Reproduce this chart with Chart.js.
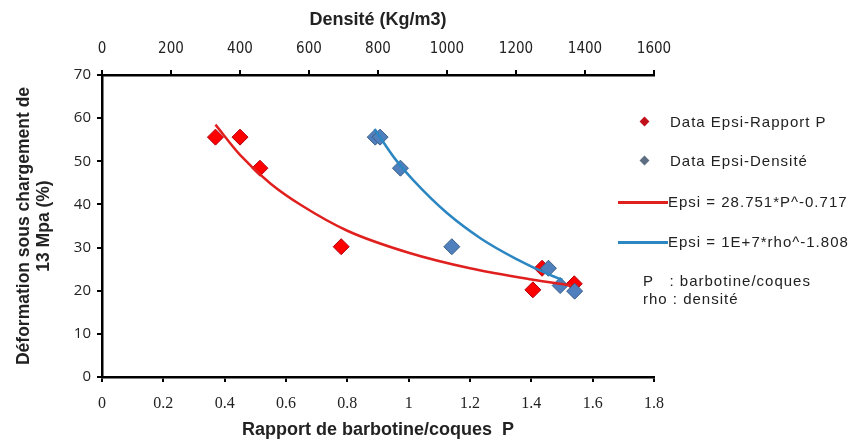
<!DOCTYPE html>
<html>
<head>
<meta charset="utf-8">
<script src="https://cdn.jsdelivr.net/npm/chart.js@4"></script>
<style>
  body { margin: 0; background: #fff; }
  #wrap { position: relative; width: 862px; height: 445px; }
  #legend { position: absolute; left: 600px; top: 100px; width: 262px; font-family: "Liberation Sans", Arial, sans-serif; font-size: 15px; letter-spacing: 1px; color: #222; }
  .item { position: absolute; left: 0; height: 20px; line-height: 20px; white-space: nowrap; }
  .dia { position: absolute; width: 7px; height: 7px; transform: rotate(45deg); }
  .ln { position: absolute; height: 3px; width: 50px; }
  .txt { position: absolute; }
</style>
</head>
<body>
<div id="wrap">
  <canvas id="epsiChart" width="862" height="445"></canvas>
  <div id="legend">
    <div class="item" style="top:12px"><span class="dia" style="left:41px;top:6px;background:#c0101a"></span><span class="txt" style="left:70px">Data Epsi-Rapport P</span></div>
    <div class="item" style="top:51px"><span class="dia" style="left:41px;top:6px;background:#5d6d82"></span><span class="txt" style="left:70px">Data Epsi-Densité</span></div>
    <div class="item" style="top:92px"><span class="ln" style="left:18px;top:9px;background:#e0201e"></span><span class="txt" style="left:68px">Epsi = 28.751*P^-0.717</span></div>
    <div class="item" style="top:132px"><span class="ln" style="left:18px;top:9px;background:#2b86c2"></span><span class="txt" style="left:68px">Epsi = 1E+7*rho^-1.808</span></div>
    <div class="item" style="top:172px;line-height:18px"><span class="txt" style="left:43px">P&nbsp;&nbsp;&nbsp;: barbotine/coques<br>rho : densité</span></div>
  </div>
</div>
<script>
// points
const rapportP = [0.37, 0.45, 0.515, 0.78, 1.405, 1.435, 1.54];
const epsiP = [55.6, 55.6, 48.4, 30.2, 20.2, 25.2, 21.6];
const densite = [792, 806, 865, 1014, 1294, 1328, 1370];
const epsiRho = [55.6, 55.6, 48.4, 30.2, 25.2, 21.2, 19.9];

// trend curves
const fitP = [0.37, 0.45, 0.55, 0.65, 0.8, 1.0, 1.2, 1.4, 1.53];
const fitEpsiP = [58.5, 51.5, 44.8, 39.8, 33.9, 28.8, 25.2, 22.6, 21.2];
const fitRho = [790, 850, 900, 1000, 1100, 1200, 1300, 1335];
const fitEpsiRho = [57.5, 50.5, 45.8, 38.0, 32.0, 27.4, 23.6, 22.5];

const xTicks = [0, 0.2, 0.4, 0.6, 0.8, 1, 1.2, 1.4, 1.6, 1.8];
const x2Ticks = [0, 200, 400, 600, 800, 1000, 1200, 1400, 1600];
const yTicks = [0, 10, 20, 30, 40, 50, 60, 70];

function pts(xs, ys) {
  return xs.map(function (v, i) { return { x: v, y: ys[i] }; });
}
function plain(v) { return String(v); }

const condensed = '"DejaVu Sans Condensed", "Liberation Sans", sans-serif';

const ctx = document.getElementById("epsiChart").getContext("2d");
const epsiChart = new Chart(ctx, {
  type: "scatter",
  data: {
    datasets: [
      {
        label: "Epsi = 1E+7*rho^-1.808",
        data: pts(fitRho, fitEpsiRho),
        xAxisID: "x2",
        showLine: true,
        borderColor: "#2b86c2",
        borderWidth: 2.5,
        pointRadius: 0,
        cubicInterpolationMode: "monotone",
        order: 0,
      },
      {
        label: "Epsi = 28.751*P^-0.717",
        data: pts(fitP, fitEpsiP),
        xAxisID: "x",
        showLine: true,
        borderColor: "#e0201e",
        borderWidth: 2.5,
        pointRadius: 0,
        cubicInterpolationMode: "monotone",
        order: 1,
      },
      {
        label: "Data Epsi-Densité",
        data: pts(densite, epsiRho),
        xAxisID: "x2",
        pointStyle: "rectRot",
        pointRadius: 8,
        backgroundColor: "#4f7fbd",
        borderColor: "#3a5f87",
        borderWidth: 1,
        order: 2,
      },
      {
        label: "Data Epsi-Rapport P",
        data: pts(rapportP, epsiP),
        xAxisID: "x",
        pointStyle: "rectRot",
        pointRadius: 8,
        backgroundColor: "#ff0000",
        borderColor: "#b00010",
        borderWidth: 1,
        order: 3,
      },
    ],
  },
  options: {
    responsive: false,
    animation: false,
    layout: { padding: { left: 0, right: 208, top: 0, bottom: 0 } },
    plugins: { legend: { display: false }, tooltip: { enabled: false } },
    scales: {
      x: {
        type: "linear",
        position: "bottom",
        min: 0,
        max: 1.8,
        afterBuildTicks: function (s) { s.ticks = xTicks.map(function (v) { return { value: v }; }); },
        afterFit: function (s) { s.height = 68; },
        grid: { drawOnChartArea: false, drawTicks: true, tickLength: 5, color: "#000", lineWidth: 2 },
        border: { display: true, color: "#000", width: 2.5 },
        ticks: { color: "#222", padding: 12, maxRotation: 0, callback: plain, font: { family: "Liberation Serif", size: 16 } },
        title: { display: true, text: "Rapport de barbotine/coques  P", color: "#222", padding: { top: 0, bottom: 4 }, font: { family: "Liberation Sans", size: 18, weight: "bold" } },
      },
      x2: {
        type: "linear",
        position: "top",
        min: 0,
        max: 1600,
        afterBuildTicks: function (s) { s.ticks = x2Ticks.map(function (v) { return { value: v }; }); },
        afterFit: function (s) { s.height = 75; },
        grid: { drawOnChartArea: false, drawTicks: true, tickLength: 5, color: "#000", lineWidth: 2 },
        border: { display: true, color: "#000", width: 2.5 },
        ticks: { color: "#222", padding: 12, maxRotation: 0, callback: plain, font: { family: condensed, size: 15 } },
        title: { display: true, text: "Densité (Kg/m3)", color: "#222", padding: { top: 9, bottom: 6 }, font: { family: "Liberation Sans", size: 18, weight: "bold" } },
      },
      y: {
        type: "linear",
        min: 0,
        max: 70,
        afterBuildTicks: function (s) { s.ticks = yTicks.map(function (v) { return { value: v }; }); },
        afterFit: function (s) { s.width = 102; },
        grid: { drawOnChartArea: false, drawTicks: true, tickLength: 5, color: "#000", lineWidth: 2 },
        border: { display: true, color: "#000", width: 2.5 },
        ticks: { color: "#222", padding: 6, callback: plain, font: { family: "Open Sans", size: 15 } },
        title: { display: true, text: ["Déformation sous chargement de", "13 Mpa (%)"], color: "#222", padding: { top: 14, bottom: 0 }, font: { family: "Liberation Sans", size: 17.5, weight: "bold", lineHeight: 1.15 } },
      },
    },
  },
});
</script>
</body>
</html>
